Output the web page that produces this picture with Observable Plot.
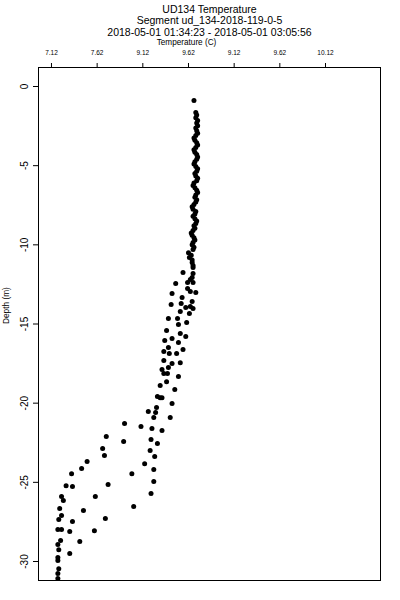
<!DOCTYPE html>
<html><head><meta charset="utf-8">
<script src="https://cdn.jsdelivr.net/npm/d3@7"></script>
<script src="https://cdn.jsdelivr.net/npm/@observablehq/plot@0.6"></script>
<style>body{margin:0;background:#fff;}</style>
</head><body><div id="chart"></div>
<script>
const titleLines = ["UD134 Temperature", "Segment ud_134-2018-119-0-5", "2018-05-01 01:34:23 - 2018-05-01 03:05:56"];
const xLabel = "Temperature (C)";
const yLabel = "Depth (m)";
const xTickValues = [7.12, 7.62, 8.12, 8.62, 9.12, 9.62, 10.12];
const xTickLabels = ["7.12", "7.62", "9.12", "9.62", "9.12", "9.62", "10.12"];
const yTickValues = [0, -5, -10, -15, -20, -25, -30];

const depth = [
  -0.88,-1.64,-1.80,-1.98,-2.15,-2.30,-2.48,-2.62,-2.80,-2.95,
  -3.10,-3.25,-3.40,-3.55,-3.70,-3.85,-4.00,-4.15,-4.30,-4.45,
  -4.60,-4.75,-4.90,-5.05,-5.20,-5.35,-5.50,-5.65,-5.80,-5.95,
  -6.10,-6.25,-6.40,-6.55,-6.70,-6.85,-7.00,-7.15,-7.30,-7.45,
  -7.60,-7.75,-7.90,-8.05,-8.20,-8.35,-8.50,-8.65,-8.80,-8.95,
  -9.10,-9.25,-9.40,-9.55,-9.70,-9.85,-10.00,-10.15,-10.30,-10.50,
  -10.65,-10.80,-10.95,-11.12,-11.30,-11.43,
  -11.75,-11.81,-12.07,-12.19,-12.44,-12.38,-12.38,-12.76,-12.95,-13.01,
  -13.08,-13.33,-13.58,-13.77,-13.71,-13.96,-13.90,-14.02,-14.21,-14.34,
  -14.66,-14.66,-15.03,-14.91,-15.41,-15.60,-15.79,-16.04,-15.92,-16.17,
  -16.49,-16.61,-16.74,-16.87,-16.87,-17.31,-17.50,-17.44,-17.75,-17.88,
  -18.13,-18.13,-18.32,-18.64,-18.89,-19.14,-19.58,-19.65,-19.65,-20.02,
  -20.28,-20.53,-20.59,-20.91,-20.91,-21.29,-21.48,-21.60,-21.73,-22.11,
  -22.30,-22.42,-22.55,-22.87,-22.99,-23.31,-23.37,-23.69,-23.82,-24.13,
  -24.19,-24.45,-24.45,-24.95,-25.14,-25.21,-25.27,-25.71,-25.90,-25.90,
  -26.15,-26.53,-26.66,-26.78,-27.10,-27.29,-27.35,-27.48,-27.98,-27.98,
  -28.11,-28.05,-28.68,-28.74,-28.93,-29.25,-29.50,-29.75,-29.94,-30.45,
  -30.76,-31.08
];
const temperature = [
  8.68,8.70,8.71,8.70,8.72,8.71,8.72,8.70,8.71,8.72,
  8.70,8.68,8.69,8.71,8.72,8.70,8.68,8.69,8.71,8.72,
  8.71,8.69,8.68,8.70,8.72,8.71,8.69,8.70,8.72,8.71,
  8.68,8.67,8.69,8.71,8.72,8.70,8.69,8.71,8.70,8.68,
  8.66,8.67,8.70,8.69,8.67,8.69,8.71,8.70,8.68,8.69,
  8.67,8.65,8.66,8.68,8.69,8.67,8.66,8.68,8.67,8.62,
  8.65,8.63,8.66,8.66,8.67,8.67,
  8.56,8.67,8.66,8.64,8.48,8.61,8.67,8.61,8.64,8.70,
  8.44,8.55,8.66,8.43,8.54,8.59,8.64,8.67,8.53,8.63,
  8.40,8.50,8.51,8.60,8.38,8.53,8.59,8.36,8.44,8.51,
  8.40,8.56,8.35,8.41,8.49,8.35,8.44,8.53,8.40,8.33,
  8.35,8.39,8.51,8.38,8.31,8.47,8.28,8.31,8.33,8.44,
  8.27,8.18,8.26,8.24,8.42,7.92,8.10,8.22,8.33,7.72,
  8.21,7.91,8.28,7.68,8.20,7.70,8.25,7.51,8.14,7.45,
  8.24,7.34,8.00,8.24,7.74,7.28,7.35,8.21,7.23,7.60,
  7.25,8.02,7.21,7.47,7.23,7.71,7.20,7.35,7.19,7.23,
  7.32,7.59,7.22,7.43,7.19,7.20,7.32,7.19,7.19,7.20,
  7.19,7.19
];
const data = depth.map((d, i) => ({depth: d, temperature: temperature[i]}));

const font = "'Liberation Sans', Arial, Helvetica, sans-serif";
const chart = Plot.plot({
  width: 400,
  height: 600,
  marginTop: 67,
  marginLeft: 38,
  marginRight: 20,
  marginBottom: 20,
  style: {fontFamily: font, background: "#fff", color: "#000"},
  x: {domain: [6.978, 10.722]},
  y: {domain: [-31.2, 1.2]},
  marks: [
    Plot.frame({stroke: "#000", strokeWidth: 1}),
    Plot.axisX({anchor: "top", ticks: xTickValues, tickFormat: d => xTickLabels[xTickValues.indexOf(d)], tickSize: 5, tickPadding: 8, fontSize: 6.5, label: null}),
    Plot.axisY({anchor: "left", ticks: yTickValues, tickFormat: d => String(d), tickRotate: -90, tickSize: 5, tickPadding: 6, fontSize: 10, label: null}),
    Plot.dot(data, {x: "temperature", y: "depth", r: 2.5, fill: "#000", stroke: null}),
    Plot.text([titleLines[0]], {text: d => d, frameAnchor: "top", dy: -62, fontSize: 10.5}),
    Plot.text([titleLines[1]], {text: d => d, frameAnchor: "top", dy: -51, fontSize: 10.5}),
    Plot.text([titleLines[2]], {text: d => d, frameAnchor: "top", dy: -39, fontSize: 10.5}),
    Plot.text([xLabel], {text: d => d, frameAnchor: "top", dx: -23, dy: -28, fontSize: 8.2}),
    Plot.text([yLabel], {text: d => d, frameAnchor: "left", dx: -32, rotate: -90, fontSize: 8.3})
  ]
});
document.getElementById("chart").appendChild(chart);
</script>
</body></html>
